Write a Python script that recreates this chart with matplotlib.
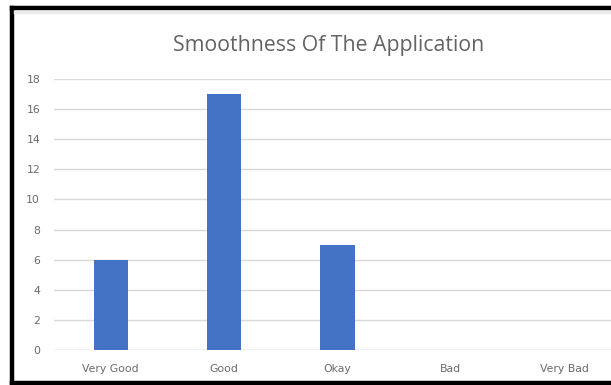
import matplotlib.pyplot as plt
from matplotlib.lines import Line2D

# Survey answers: how smooth the application feels
ratings = ['Very Good', 'Good', 'Okay', 'Bad', 'Very Bad']
responses = [6, 17, 7, 0, 0]
y_ticks = list(range(0, 20, 2))

W, H = 611, 385
fig = plt.figure(figsize=(W / 100, H / 100), dpi=100)
fig.patch.set_facecolor('white')

# plot area in pixel terms, then converted to figure fractions
left, right, bottom, top = 54, 621, 350, 79
ax = fig.add_axes([left / W, (H - bottom) / H, (right - left) / W, (bottom - top) / H])

ax.bar(range(len(ratings)), responses, width=0.3, color='#4472C4', zorder=3)

ax.set_xlim(-0.5, len(ratings) - 0.5)
ax.set_ylim(0, 18)
ax.set_yticks(y_ticks)
ax.set_xticks(range(len(ratings)))
ax.set_xticklabels(ratings)
ax.grid(axis='y', color='#d9d9d9', linewidth=1.0, zorder=0)
for s in ax.spines.values():
    s.set_visible(False)
ax.axhline(0, color='#d9d9d9', linewidth=1.0, zorder=1)
ax.tick_params(axis='both', length=0, labelsize=7.8, labelcolor='#6a6a6a')
ax.tick_params(axis='y', pad=10)
ax.tick_params(axis='x', pad=10)

fig.text(329 / W, 1 - 45 / H, 'Smoothness Of The Application', ha='center', va='center',
         fontsize=15.3, color='#636363', family='Open Sans')

# dark frame around the chart (right edge falls outside the image)
frame = dict(color='black', linewidth=3.2, solid_capstyle='projecting')
fig.add_artist(Line2D([12 / W, 12 / W], [1 - 8 / H, 1 - 383 / H], transform=fig.transFigure, **frame))
fig.add_artist(Line2D([12 / W, 1], [1 - 8 / H, 1 - 8 / H], transform=fig.transFigure, **frame))
fig.add_artist(Line2D([12 / W, 1], [1 - 383 / H, 1 - 383 / H], transform=fig.transFigure, **frame))
fig.add_artist(Line2D([15 / W, 1], [1 - 12 / H, 1 - 12 / H], transform=fig.transFigure,
                      color='#ececec', linewidth=2.5))

fig.savefig('out.png', dpi=100)
